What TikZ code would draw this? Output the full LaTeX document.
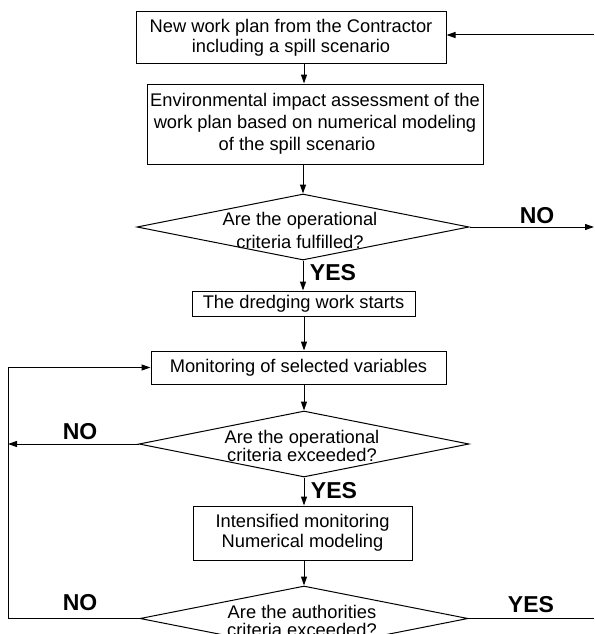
\documentclass[tikz,border=0pt]{standalone}
\usepackage{fontspec}
\setmainfont{Liberation Sans}
\usetikzlibrary{shapes.geometric,arrows.meta,calc}
\begin{document}
\begin{tikzpicture}[x=1pt,y=-1pt,
  line width=1pt,
  arr/.style={-{Triangle[length=9pt,width=6pt]}},
  box/.style={draw, inner sep=1pt, align=center, font=\fontsize{18.3}{20}\selectfont},
  dia/.style={draw, diamond, inner sep=0pt},
  dtext/.style={align=center, inner sep=0pt},
  lbl/.style={font=\fontsize{23}{26}\bfseries\selectfont, inner sep=0pt}]
\useasboundingbox (0,0) rectangle (594,634);
\clip (0,0) rectangle (594,634);

\coordinate (lx) at (8,0);
\coordinate (rx) at (594,0);
\coordinate (rin) at (594,35);
\coordinate (col) at (304,0);

\node[box, minimum width=310, minimum height=52] (b1) at (291,38)
  {New work plan from the Contractor\\including a spill scenario};
\node[box, minimum width=336, minimum height=80, font=\fontsize{18.3}{22}\selectfont] (b2) at (315,124)
  {Environmental impact assessment of the\\work plan based on numerical modeling\\of the spill scenario\hspace*{36pt}};
\node[dia, minimum width=332, minimum height=66] (d1) at (303,227) {};
\node[dtext, font=\fontsize{18.3}{23}\selectfont] (t1) at (300,230) {Are the operational\\criteria fulfilled?};
\node[lbl] (yes1) at (333,273) {YES};
\node[lbl] (no1) at (537,216) {NO};
\node[box, minimum width=223, minimum height=25] (b3) at (303.5,303.5) {The dredging work starts};
\node[box, minimum width=295, minimum height=33] (b4) at (298.5,367.5) {Monitoring of selected variables};
\node[dia, minimum width=330, minimum height=66] (d2) at (304,444) {};
\node[dtext, font=\fontsize{18.3}{17.5}\selectfont] (t2) at (302,446) {Are the operational\\criteria exceeded?};
\node[lbl] (no2) at (80,432) {NO};
\node[lbl] (yes2) at (334,491) {YES};
\node[box, minimum width=219, minimum height=54] (b5) at (302.5,533) {Intensified monitoring\\Numerical modeling};
\node[dia, minimum width=328, minimum height=65] (d3) at (304,618.5) {};
\node[dtext, font=\fontsize{18.3}{18}\selectfont, anchor=north] (t3) at (302,605) {Are the authorities\\criteria exceeded?};
\node[lbl] (no3) at (80,603) {NO};
\node[lbl] (yes3) at (531,605) {YES};

\draw[arr] (rin) -- (rin -| b1.east);
\draw[arr] (b1.south -| col) -- (b2.north -| col);
\draw[arr] (b2.south -| d1.north) -- (d1.north);
\draw[arr] (d1.south) -- (b3.north -| d1.south);
\draw[arr] (b3.south -| col) -- (b4.north -| col);
\draw[arr] (b4.south -| col) -- (d2.north);
\draw[arr] (d2.south) -- (b5.north -| d2.south);
\draw[arr] (b5.south -| col) -- (d3.north);
\draw[arr] (d1.east) -- (d1.east -| rx);
\draw[arr] (d2.west) -- (d2.west -| lx);
\draw[arr] (d3.west) -- (d3.west -| lx) |- (b4.west);
\draw (d3.east) -- (d3.east -| rx);
\end{tikzpicture}
\end{document}
